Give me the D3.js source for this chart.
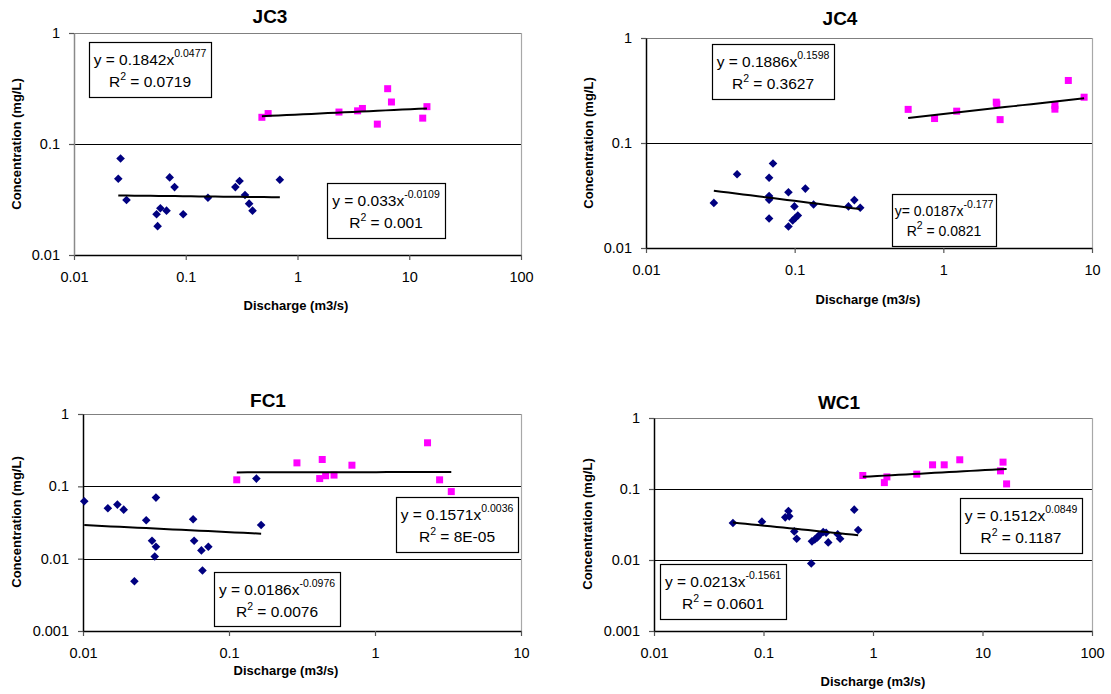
<!DOCTYPE html>
<html>
<head>
<meta charset="utf-8">
<script src="https://cdn.jsdelivr.net/npm/d3@7"></script>
<style>
  html, body { margin: 0; padding: 0; background: #fff; }
  svg { display: block; font-family: "Liberation Sans", Arial, sans-serif; }
  text { white-space: pre; }
</style>
</head>
<body>
<svg id="chart" width="1111" height="694"></svg>
<script>
// ---------- DATA ----------
const panelTitles = ["JC3", "JC4", "FC1", "WC1"];
const xTitle = "Discharge (m3/s)";
const yTitle = "Concentration (mg/L)";

const xTickValues34 = [0.01, 0.1, 1, 10, 100];
const xTickValues3 = [0.01, 0.1, 1, 10];
const xTickLabels = { 0.01: "0.01", 0.1: "0.1", 1: "1", 10: "10", 100: "100" };
const yTickValues3 = [0.01, 0.1, 1];
const yTickValues4 = [0.001, 0.01, 0.1, 1];
const yTickLabels = { 0.001: "0.001", 0.01: "0.01", 0.1: "0.1", 1: "1" };

// JC3
const jc3LowX  = [0.0261,0.0249,0.0295,0.0548,0.056,0.0593,0.0673,0.0718,0.0794,0.0949,0.158,0.278,0.303,0.339,0.369,0.396,0.695];
const jc3LowY  = [0.074,0.0486,0.0313,0.0233,0.0182,0.0264,0.0251,0.050,0.0409,0.0233,0.0328,0.0409,0.0464,0.0347,0.029,0.0251,0.0476];
const jc3HighX = [0.48,0.546,2.35,3.45,3.81,5.18,6.41,6.93,13.2,14.4];
const jc3HighY = [0.174,0.188,0.194,0.199,0.209,0.151,0.315,0.239,0.171,0.217];
const jc3LowFit  = [0.033, -0.0109];
const jc3HighFit = [0.1842, 0.0477];
const jc3LowEq  = ["y = 0.033x", "-0.0109", "0.001"];
const jc3HighEq = ["y = 0.1842x", "0.0477", "0.0719"];

// JC4
const jc4LowX  = [0.0286,0.041,0.0673,0.0715,0.0673,0.0673,0.0673,0.0908,0.0908,0.097,0.0996,0.101,0.105,0.118,0.134,0.23,0.252,0.276];
const jc4LowY  = [0.0269,0.0504,0.0466,0.0637,0.0312,0.0288,0.0191,0.034,0.016,0.0183,0.0249,0.0193,0.0204,0.0368,0.026,0.0249,0.0286,0.0242];
const jc4HighX = [0.58,0.873,1.23,2.27,2.29,2.41,5.63,5.63,6.93,8.85];
const jc4HighY = [0.209,0.171,0.201,0.245,0.235,0.167,0.228,0.21,0.394,0.273];
const jc4LowFit  = [0.0187, -0.177];
const jc4HighFit = [0.1886, 0.1598];
const jc4LowEq  = ["y= 0.0187x", "-0.177", "0.0821"];
const jc4HighEq = ["y = 0.1886x", "0.1598", "0.3627"];

// FC1
const fc1LowX  = [0.0102,0.0148,0.0172,0.019,0.0225,0.0271,0.0297,0.031,0.0316,0.0316,0.0568,0.0577,0.0647,0.0658,0.0722,0.154,0.166];
const fc1LowY  = [0.0621,0.0497,0.0559,0.0476,0.00488,0.0339,0.0177,0.0107,0.0146,0.0699,0.035,0.0177,0.013,0.00686,0.0146,0.128,0.0292];
const fc1HighX = [0.113,0.292,0.418,0.435,0.459,0.524,0.695,2.29,2.77,3.33];
const fc1HighY = [0.123,0.211,0.128,0.235,0.140,0.143,0.196,0.40,0.123,0.0846];
const fc1LowFit  = [0.0186, -0.0976];
const fc1HighFit = [0.1571, 0.0036];
const fc1LowEq  = ["y = 0.0186x", "-0.0976", "0.0076"];
const fc1HighEq = ["y = 0.1571x", "0.0036", "8E-05"];

// WC1
const wc1LowX  = [0.0526,0.0968,0.158,0.169,0.172,0.191,0.201,0.273,0.277,0.294,0.310,0.321,0.351,0.373,0.390,0.476,0.501,0.674,0.732];
const wc1LowY  = [0.0332,0.0347,0.0399,0.0491,0.0412,0.0253,0.0199,0.00893,0.0183,0.0195,0.0208,0.0222,0.0248,0.0242,0.0177,0.023,0.0199,0.0512,0.0264];
const wc1HighX = [0.807,1.27,1.34,2.51,3.50,4.47,6.20,14.6,15.4,16.6];
const wc1HighY = [0.155,0.123,0.148,0.162,0.219,0.219,0.258,0.180,0.239,0.118];
const wc1LowFit  = [0.0213, -0.1561];
const wc1HighFit = [0.1512, 0.0849];
const wc1LowEq  = ["y = 0.0213x", "-0.1561", "0.0601"];
const wc1HighEq = ["y = 0.1512x", "0.0849", "0.1187"];

// ---------- LAYOUT ----------
const panels = [
  { title: panelTitles[0], xDom: [0.01, 100], yDom: [0.01, 1], xTicks: xTickValues34, yTicks: yTickValues3,
    L: 74, R: 521, T: 33, B: 255, titlePos: [270, 16], xtPos: [296, 305], ytPos: [16, 144], leftAxisColor: "#8a8a8a",
    low: [jc3LowX, jc3LowY, jc3LowFit, jc3LowEq], high: [jc3HighX, jc3HighY, jc3HighFit, jc3HighEq],
    lowBox: [327, 183, 445, 238], highBox: [89, 42, 211, 97] },
  { title: panelTitles[1], xDom: [0.01, 10], yDom: [0.01, 1], xTicks: xTickValues3, yTicks: yTickValues3,
    L: 646, R: 1092, T: 38, B: 248, titlePos: [840, 18], xtPos: [868, 299], ytPos: [588, 143], leftAxisColor: "#000",
    low: [jc4LowX, jc4LowY, jc4LowFit, jc4LowEq], high: [jc4HighX, jc4HighY, jc4HighFit, jc4HighEq],
    lowBox: [892, 194, 996, 246], highBox: [712, 44, 834, 99], lowFont: 14, lowOffsets: [22, 42] },
  { title: panelTitles[2], xDom: [0.01, 10], yDom: [0.001, 1], xTicks: xTickValues3, yTicks: yTickValues4,
    L: 83, R: 521, T: 414, B: 631, titlePos: [268, 400], xtPos: [286, 670], ytPos: [16, 522], leftAxisColor: "#000",
    low: [fc1LowX, fc1LowY, fc1LowFit, fc1LowEq], high: [fc1HighX, fc1HighY, fc1HighFit, fc1HighEq],
    lowBox: [214, 572, 340, 626], highBox: [396, 497, 518, 552] },
  { title: panelTitles[3], xDom: [0.01, 100], yDom: [0.001, 1], xTicks: xTickValues34, yTicks: yTickValues4,
    L: 654, R: 1092, T: 418, B: 631, titlePos: [839, 402], xtPos: [873, 681], ytPos: [587, 524], leftAxisColor: "#000",
    low: [wc1LowX, wc1LowY, wc1LowFit, wc1LowEq], high: [wc1HighX, wc1HighY, wc1HighFit, wc1HighEq],
    lowBox: [660, 564, 786, 619], highBox: [960, 498, 1082, 553] }
];

const BLUE = "#000080", PINK = "#FF00FF";
const svg = d3.select("#chart");

panels.forEach(p => {
  const g = svg.append("g");
  const x = d3.scaleLog().domain(p.xDom).range([p.L, p.R]);
  const y = d3.scaleLog().domain(p.yDom).range([p.B, p.T]);

  // gridlines (inner decades)
  g.append("g").selectAll("line").data(p.yTicks.filter(v => v !== p.yDom[0] && v !== p.yDom[1]))
    .join("line")
    .attr("x1", p.L).attr("x2", p.R)
    .attr("y1", d => Math.round(y(d)) + 0.5).attr("y2", d => Math.round(y(d)) + 0.5)
    .attr("stroke", "#000").attr("stroke-width", 1);

  // frame: top & right
  g.append("line").attr("x1", p.L).attr("x2", p.R).attr("y1", p.T + 0.5).attr("y2", p.T + 0.5)
    .attr("stroke", "#808080").attr("stroke-width", 1.2);
  g.append("line").attr("x1", p.R + 0.5).attr("x2", p.R + 0.5).attr("y1", p.T).attr("y2", p.B)
    .attr("stroke", "#a8a8a8").attr("stroke-width", 1.2);

  // x axis
  const xAxis = d3.axisBottom(x).tickValues(p.xTicks).tickFormat(d => xTickLabels[d])
    .tickSizeInner(5).tickSizeOuter(0).tickPadding(12);
  const gx = g.append("g").attr("transform", `translate(0,${p.B})`).call(xAxis);
  gx.select(".domain").attr("stroke", "#000").attr("stroke-width", 1.5);
  gx.selectAll(".tick line").attr("stroke", "#555").attr("stroke-width", 1.2);
  gx.selectAll("text").attr("font-size", "14.5px").attr("fill", "#000")
    .attr("font-family", "Liberation Sans, Arial, sans-serif");

  // y axis
  const yAxis = d3.axisLeft(y).tickValues(p.yTicks).tickFormat(d => yTickLabels[d])
    .tickSizeInner(5).tickSizeOuter(0).tickPadding(9);
  const gy = g.append("g").attr("transform", `translate(${p.L},0)`).call(yAxis);
  gy.select(".domain").attr("stroke", p.leftAxisColor).attr("stroke-width", 1.5);
  gy.selectAll(".tick line").attr("stroke", "#555").attr("stroke-width", 1.2);
  gy.selectAll("text").attr("font-size", "14.5px").attr("fill", "#000")
    .attr("font-family", "Liberation Sans, Arial, sans-serif");

  // titles
  g.append("text").attr("x", p.titlePos[0]).attr("y", p.titlePos[1]).attr("dy", "0.35em")
    .attr("text-anchor", "middle").attr("font-size", "19px").attr("font-weight", "bold").text(p.title);
  g.append("text").attr("x", p.xtPos[0]).attr("y", p.xtPos[1]).attr("dy", "0.35em")
    .attr("text-anchor", "middle").attr("font-size", "13px").attr("font-weight", "bold").text(xTitle);
  g.append("text").attr("transform", `translate(${p.ytPos[0]},${p.ytPos[1]}) rotate(-90)`).attr("dy", "0.35em")
    .attr("text-anchor", "middle").attr("font-size", "13px").attr("font-weight", "bold").text(yTitle);

  // series
  const series = [
    { d: p.low, color: BLUE, shape: "diamond", box: p.lowBox, font: p.lowFont || 15.5, off: p.lowOffsets || [23, 45] },
    { d: p.high, color: PINK, shape: "square", box: p.highBox, font: 15.5, off: [23, 45] }
  ];
  series.forEach(s => {
    const [xs, ys, fit, eq] = s.d;
    const pts = xs.map((v, i) => ({ x: v, y: ys[i] }));
    // markers
    if (s.shape === "diamond") {
      g.append("g").selectAll("path").data(pts).join("path")
        .attr("d", d => { const cx = x(d.x), cy = y(d.y), r = 4.3;
          return `M${cx},${cy - r}L${cx + r},${cy}L${cx},${cy + r}L${cx - r},${cy}Z`; })
        .attr("fill", s.color);
    } else {
      g.append("g").selectAll("rect").data(pts).join("rect")
        .attr("x", d => x(d.x) - 3.5).attr("y", d => y(d.y) - 3.5)
        .attr("width", 7).attr("height", 7).attr("fill", s.color);
    }
    // trendline (power fit y = a x^b)
    const ext = d3.extent(xs);
    const trend = d3.range(0, 21).map(i => {
      const xv = Math.pow(10, Math.log10(ext[0]) + (Math.log10(ext[1]) - Math.log10(ext[0])) * i / 20);
      return [xv, fit[0] * Math.pow(xv, fit[1])];
    });
    g.append("path").datum(trend)
      .attr("d", d3.line().x(d => x(d[0])).y(d => y(d[1])))
      .attr("fill", "none").attr("stroke", "#000").attr("stroke-width", 2);

    // equation box
    const [bx0, by0, bx1, by1] = s.box;
    g.append("rect").attr("x", bx0 + 0.5).attr("y", by0 + 0.5)
      .attr("width", bx1 - bx0).attr("height", by1 - by0)
      .attr("fill", "#fff").attr("stroke", "#000").attr("stroke-width", 1.2);
    const cx = (bx0 + bx1) / 2;
    const t1 = g.append("text").attr("x", cx).attr("y", by0 + s.off[0])
      .attr("text-anchor", "middle").attr("font-size", s.font + "px").attr("fill", "#000");
    t1.append("tspan").text(eq[0]);
    t1.append("tspan").attr("dy", -8).attr("font-size", "10.5px").text(eq[1]);
    const t2 = g.append("text").attr("x", cx).attr("y", by0 + s.off[1])
      .attr("text-anchor", "middle").attr("font-size", s.font + "px").attr("fill", "#000");
    t2.append("tspan").text("R");
    t2.append("tspan").attr("dy", -7).attr("font-size", "10.5px").text("2");
    t2.append("tspan").attr("dy", 7).text(" = " + eq[2]);
  });
});
</script>
</body>
</html>
